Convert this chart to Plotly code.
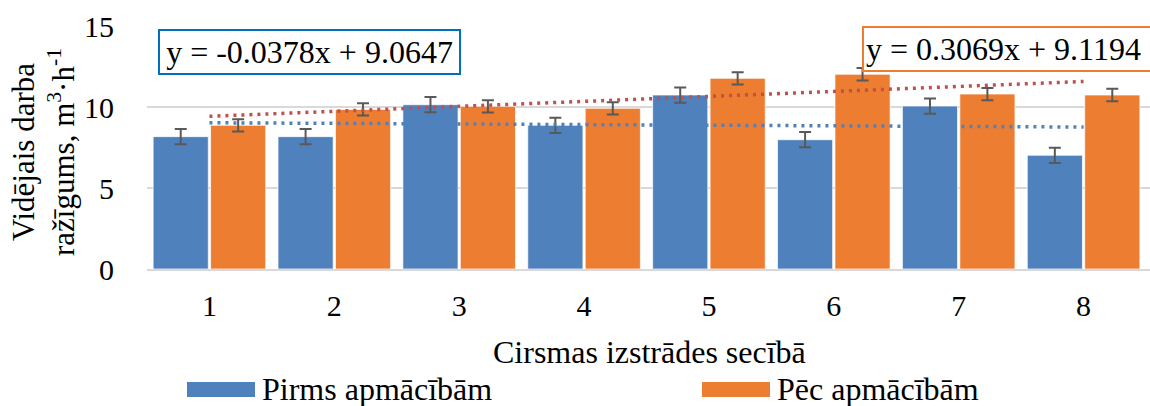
import plotly.graph_objects as go

# Series data
categories = [1, 2, 3, 4, 5, 6, 7, 8]
before_name = "Pirms apmācībām"
after_name = "Pēc apmācībām"
before_vals = [8.17, 8.17, 10.14, 8.87, 10.74, 7.98, 10.06, 7.02]
after_vals = [8.87, 9.85, 10.04, 9.92, 11.77, 12.02, 10.80, 10.74]
before_err = [0.47, 0.47, 0.47, 0.47, 0.47, 0.47, 0.47, 0.47]
after_err = [0.38, 0.38, 0.38, 0.38, 0.38, 0.38, 0.38, 0.38]

# Linear trend coefficients (slope, intercept)
before_trend = (-0.0378, 9.0647)
after_trend = (0.3069, 9.1194)

y_ticks = [0, 5, 10, 15]
x_title = "Cirsmas izstrādes secībā"
y_title = "Vidējais darba<br>ražīgums, m<sup>3</sup>·h<sup>-1</sup>"

BLUE = "#4F81BD"
ORANGE = "#ED7D31"
RED_TREND = "#C0504D"
BLUE_TREND = "#4F81BD"
GRID = "#D9D9D9"
FONT = "Times New Roman, Liberation Serif, serif"

W, H = 1150, 406
L, R, T, B = 147, 0, 26, 137


def px_x(px):
    return (px - L) / (W - L - R)


def px_y(py):
    return (H - B - py) / (H - T - B)


def eq_text(coef):
    s, b = coef
    return f"y = {s:.4f}x + {b:.4f}"


fig = go.Figure()

fig.add_trace(go.Bar(
    x=categories, y=before_vals, name=before_name,
    marker=dict(color=BLUE, line=dict(color="rgba(255,255,255,0.7)", width=1)),
    error_y=dict(type="data", array=before_err, color="#595959", thickness=2, width=6),
))
fig.add_trace(go.Bar(
    x=categories, y=after_vals, name=after_name,
    marker=dict(color=ORANGE, line=dict(color="rgba(255,255,255,0.7)", width=1)),
    error_y=dict(type="data", array=after_err, color="#595959", thickness=2, width=6),
))

# Trend lines evaluated from the stated equations
for coef, col in [(after_trend, RED_TREND), (before_trend, BLUE_TREND)]:
    fig.add_trace(go.Scatter(
        x=categories, y=[coef[0] * c + coef[1] for c in categories],
        mode="lines", line=dict(color=col, width=3.5, dash="3px,5px"),
        hoverinfo="skip", showlegend=False,
    ))

annotations = []
# Equation labels
annotations.append(dict(
    xref="paper", yref="paper", x=px_x(158), y=px_y(29), xanchor="left", yanchor="top",
    text=eq_text(before_trend), showarrow=False, align="center",
    font=dict(family=FONT, size=32, color="#000"),
    bordercolor="#0070C0", borderwidth=2, borderpad=2, bgcolor="white",
    width=295, height=38,
))
annotations.append(dict(
    xref="paper", yref="paper", x=px_x(862), y=px_y(26), xanchor="left", yanchor="top",
    text=eq_text(after_trend), showarrow=False, align="left",
    font=dict(family=FONT, size=32, color="#000"),
    bordercolor=ORANGE, borderwidth=2, borderpad=2, bgcolor="white",
    width=300, height=38,
))
# Axis titles
annotations.append(dict(
    xref="paper", yref="paper", x=px_x(43), y=px_y(152), xanchor="center", yanchor="middle",
    text=y_title, textangle=-90, showarrow=False,
    font=dict(family=FONT, size=31, color="#000"),
))
annotations.append(dict(
    xref="paper", yref="paper", x=px_x(649), y=px_y(352), xanchor="center", yanchor="middle",
    text=x_title, showarrow=False,
    font=dict(family=FONT, size=32, color="#000"),
))

# Legend: coloured swatches with labels
shapes = []
for name, col, x0 in [(before_name, BLUE, 187), (after_name, ORANGE, 702)]:
    shapes.append(dict(
        type="rect", xref="paper", yref="paper",
        x0=px_x(x0), x1=px_x(x0 + 68), y0=px_y(397), y1=px_y(382),
        fillcolor=col, line=dict(width=0),
    ))
    annotations.append(dict(
        xref="paper", yref="paper", x=px_x(x0 + 73), y=px_y(389), xanchor="left", yanchor="middle",
        text=name, showarrow=False,
        font=dict(family=FONT, size=32, color="#000"),
    ))

fig.update_layout(
    width=W, height=H,
    margin=dict(l=L, r=R, t=T, b=B),
    paper_bgcolor="white", plot_bgcolor="white",
    barmode="group", bargap=0.08, bargroupgap=0.04,
    showlegend=False,
    annotations=annotations, shapes=shapes,
    font=dict(family=FONT, color="#000"),
)
fig.update_xaxes(
    type="linear", range=[0.5, 8.532], tickvals=categories,
    tickfont=dict(family=FONT, size=30, color="#000"),
    showgrid=False, zeroline=False, showline=True, linecolor=GRID, linewidth=2,
    ticks="", ticklabelstandoff=9,
)
fig.update_yaxes(
    range=[0, 15], tickvals=y_ticks,
    tickfont=dict(family=FONT, size=30, color="#000"),
    showgrid=True, gridcolor=GRID, gridwidth=1.5, zeroline=False, showline=False,
    ticks="", ticklabelstandoff=32,
)

fig.write_html("out.html")
